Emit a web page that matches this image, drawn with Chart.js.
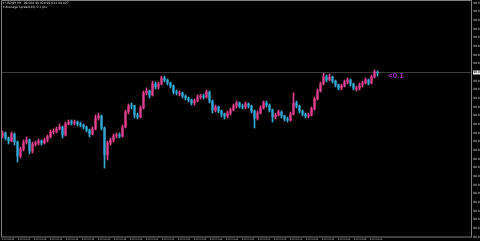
<!DOCTYPE html>
<html>
<head>
<meta charset="utf-8">
<script src="https://cdn.jsdelivr.net/npm/chart.js@4"></script>
<style>
  html, body { margin: 0; padding: 0; background: #000; }
  #wrap { width: 480px; height: 241px; }
</style>
</head>
<body>
<div id="wrap"><canvas id="priceChart" width="480" height="241"></canvas></div>
<script>
// M1 candles
let opens = [98.964,98.967,98.962,98.959,98.966,98.958,98.944,98.951,98.958,98.960,
  98.949,98.956,98.957,98.959,98.957,98.960,98.963,98.968,98.969,98.971,
  98.973,98.965,98.976,98.978,98.977,98.978,98.976,98.975,98.973,98.970,
  98.966,98.971,98.982,98.984,98.972,98.945,98.957,98.960,98.964,98.965,
  98.964,98.973,98.988,98.995,98.994,98.985,98.983,98.992,99.007,99.009,
  99.005,99.016,99.013,99.016,99.022,99.020,99.017,99.014,99.008,99.006,
  99.007,99.004,99.002,99.000,98.997,98.999,99.003,99.004,99.003,99.008,
  98.999,98.990,98.993,98.989,98.986,98.984,98.987,98.990,98.994,98.997,
  98.994,98.993,98.996,98.994,98.989,98.982,98.987,98.992,98.997,98.995,
  98.990,98.983,98.985,98.988,98.984,98.981,98.980,98.986,98.997,98.994,
  98.989,98.986,98.984,98.985,98.991,99.001,99.009,99.016,99.023,99.020,
  99.023,99.019,99.015,99.012,99.014,99.018,99.020,99.016,99.011,99.012,
  99.015,99.017,99.020,99.017,99.023,99.028]
let closes = [98.967,98.962,98.959,98.966,98.958,98.944,98.951,98.958,98.960,98.949,
  98.956,98.957,98.959,98.957,98.960,98.963,98.968,98.969,98.971,98.973,
  98.965,98.976,98.978,98.977,98.978,98.976,98.975,98.973,98.970,98.966,
  98.971,98.982,98.984,98.972,98.945,98.957,98.960,98.964,98.965,98.964,
  98.973,98.988,98.994,98.994,98.985,98.983,98.992,99.007,99.009,99.005,
  99.016,99.013,99.016,99.022,99.020,99.017,99.014,99.008,99.007,99.007,
  99.004,99.002,99.000,98.997,98.999,99.003,99.004,99.003,99.008,98.999,
  98.990,98.993,98.989,98.986,98.984,98.987,98.990,98.994,98.997,98.994,
  98.993,98.996,98.994,98.989,98.982,98.987,98.992,98.997,98.995,98.990,
  98.983,98.985,98.988,98.984,98.981,98.980,98.986,98.997,98.994,98.989,
  98.986,98.984,98.985,98.991,99.001,99.009,99.016,99.023,99.020,99.023,
  99.019,99.015,99.012,99.014,99.018,99.020,99.016,99.012,99.012,99.015,
  99.017,99.020,99.017,99.023,99.028,99.027]
let highs = [98.969,98.968,98.963,98.968,98.967,98.959,98.953,98.960,98.963,98.961,
  98.958,98.959,98.961,98.960,98.962,98.965,98.970,98.971,98.973,98.976,
  98.974,98.978,98.980,98.980,98.980,98.979,98.978,98.976,98.974,98.971,
  98.973,98.985,98.987,98.985,98.973,98.959,98.962,98.966,98.967,98.967,
  98.975,98.990,98.996,98.997,98.995,98.987,98.994,99.009,99.012,99.010,
  99.019,99.018,99.018,99.024,99.024,99.021,99.018,99.015,99.010,99.009,
  99.008,99.005,99.003,99.001,99.001,99.005,99.006,99.006,99.010,99.009,
  99.000,98.995,98.994,98.990,98.987,98.989,98.992,98.996,98.999,98.998,
  98.996,98.998,98.997,98.995,98.990,98.989,98.994,98.999,98.999,98.996,
  98.991,98.987,98.990,98.989,98.985,98.983,98.988,99.007,98.999,98.995,
  98.990,98.987,98.987,98.993,99.003,99.011,99.018,99.027,99.025,99.026,
  99.024,99.020,99.016,99.016,99.020,99.022,99.021,99.017,99.014,99.017,
  99.019,99.022,99.021,99.025,99.030,99.029]
let lows = [98.962,98.960,98.956,98.958,98.955,98.938,98.942,98.949,98.956,98.946,
  98.947,98.954,98.955,98.955,98.956,98.958,98.962,98.966,98.967,98.970,
  98.962,98.964,98.975,98.975,98.975,98.974,98.973,98.971,98.968,98.963,
  98.965,98.970,98.980,98.970,98.932,98.940,98.955,98.958,98.962,98.962,
  98.963,98.972,98.986,98.991,98.982,98.981,98.982,98.991,99.005,99.002,
  99.004,99.011,99.011,99.015,99.018,99.015,99.012,99.006,99.005,99.004,
  99.002,99.000,98.998,98.995,98.995,98.998,99.001,99.001,99.002,98.997,
  98.987,98.988,98.987,98.983,98.981,98.982,98.985,98.989,98.992,98.992,
  98.991,98.991,98.992,98.987,98.972,98.980,98.986,98.991,98.993,98.988,
  98.978,98.981,98.984,98.982,98.979,98.978,98.979,98.985,98.992,98.987,
  98.984,98.982,98.982,98.984,98.990,99.000,99.008,99.015,99.018,99.019,
  99.017,99.013,99.010,99.010,99.013,99.016,99.014,99.010,99.009,99.010,
  99.013,99.016,99.015,99.016,99.022,99.024]

let yTickValues = [99.097,99.089,99.080,99.071,99.063,99.054,99.045,99.037,99.028,99.019,
  99.011,99.002,98.993,98.985,98.976,98.967,98.959,98.950,98.941,98.933,
  98.924,98.915,98.907,98.898,98.889,98.881,98.872,98.863]
let timeLabels = ['8 Oct 09:52','8 Oct 10:00','8 Oct 10:08','8 Oct 10:16','8 Oct 10:24','8 Oct 10:32',
  '8 Oct 10:40','8 Oct 10:48','8 Oct 10:56','8 Oct 11:04','8 Oct 11:12','8 Oct 11:20',
  '8 Oct 11:28','8 Oct 11:36','8 Oct 11:44','8 Oct 11:52','8 Oct 12:00','8 Oct 12:08',
  '8 Oct 12:16','8 Oct 12:24','8 Oct 12:32','8 Oct 12:40','8 Oct 12:48','8 Oct 12:56']
let infoLines = ['\u25BE USDJPY,M1  99.028 99.029 99.024 99.027',
  '\u25BE Average Spread(20) 0.1 pts']
let spreadText = '<0.1'

const bull = '#e0428f'
const bear = '#35a9d2'
const barColor = ctx => closes[ctx.dataIndex] >= opens[ctx.dataIndex] ? bull : bear

let wickData = lows.map((l, i) => ({x: i, y: [l, highs[i]]}))
let bodyData = opens.map((o, i) => ({x: i, y: [o, closes[i]]}))

// tiny MT4-style axis text, drawn from the scales' own ticks
const mtDecor = {
  id: 'mtDecor',
  beforeDraw(chart) {
    const c = chart.ctx
    c.save()
    c.fillStyle = '#000'
    c.fillRect(0, 0, chart.width, chart.height)
    c.restore()
  },
  beforeDatasetsDraw(chart) {
    const c = chart.ctx
    const a = chart.chartArea
    const y = Math.round(chart.scales.y.getPixelForValue(closes[closes.length - 1])) - 0.5
    c.save()
    c.strokeStyle = '#3c3c3c'
    c.lineWidth = 1
    c.beginPath()
    c.moveTo(a.left, y)
    c.lineTo(a.right, y)
    c.stroke()
    c.restore()
  },
  afterDraw(chart) {
    const c = chart.ctx
    const a = chart.chartArea
    const xs = chart.scales.x
    const ys = chart.scales.y
    const last = closes[closes.length - 1]
    const y = ys.getPixelForValue(last)
    c.save()
    // frame
    c.strokeStyle = '#7c7c7c'
    c.lineWidth = 1
    c.strokeRect(a.left + 0.5, 0.5, a.right - a.left - 1, a.bottom - 0.5)
    // axis labels
    c.fillStyle = '#d4d4d4'
    c.font = '3px "DejaVu Sans"'
    c.textBaseline = 'middle'
    c.textAlign = 'left'
    ys.ticks.forEach(t => c.fillText(t.label, a.right + 1, ys.getPixelForValue(t.value)))
    c.textBaseline = 'top'
    c.font = '2.1px "DejaVu Sans"'
    xs.ticks.forEach(t => c.fillText(t.label, xs.getPixelForValue(t.value) + 1, a.bottom + 1.2))
    // current price label
    c.fillStyle = '#e8e8e8'
    c.fillRect(a.right + 1, y - 2.5, 8, 4)
    c.fillStyle = '#000'
    c.font = '3px "DejaVu Sans"'
    c.textBaseline = 'middle'
    c.fillText(last.toFixed(3), a.right + 1.2, y - 0.5)
    // spread text
    c.fillStyle = '#a32cbd'
    c.font = 'bold 8px "Liberation Sans"'
    c.fillText(spreadText, 388, y + 3)
    // info lines top-left
    c.fillStyle = '#d8d8d8'
    c.font = '3px "DejaVu Sans"'
    c.textBaseline = 'top'
    infoLines.forEach((t, k) => c.fillText(t, 3, 1.5 + k * 4))
    c.restore()
  }
}

new Chart(document.getElementById('priceChart').getContext('2d'), {
  type: 'bar',
  data: {
    datasets: [
      {data: wickData, backgroundColor: barColor, barThickness: 1, grouped: false, order: 2},
      {data: bodyData, backgroundColor: barColor, barThickness: 1.5, grouped: false, order: 1}
    ]
  },
  options: {
    responsive: false,
    animation: false,
    layout: {padding: {left: 1, top: 1, right: 0, bottom: 0}},
    plugins: {legend: {display: false}, tooltip: {enabled: false}},
    scales: {
      x: {
        type: 'linear',
        offset: false,
        min: -0.5,
        max: 156.5,
        grid: {display: false},
        border: {display: false},
        afterBuildTicks: s => { s.ticks = timeLabels.map((_, k) => ({value: -0.5 + 16 * k / 3})) },
        afterFit: s => { s.height = 4 },
        ticks: {display: false, autoSkip: false, callback: (v, k) => timeLabels[k]}
      },
      y: {
        position: 'right',
        min: 98.863,
        max: 99.099,
        grid: {display: false},
        border: {display: false},
        afterBuildTicks: s => { s.ticks = yTickValues.map(v => ({value: v})) },
        afterFit: s => { s.width = 8 },
        ticks: {display: false, autoSkip: false, callback: v => v.toFixed(3)}
      }
    }
  },
  plugins: [mtDecor]
})
</script>
</body>
</html>
